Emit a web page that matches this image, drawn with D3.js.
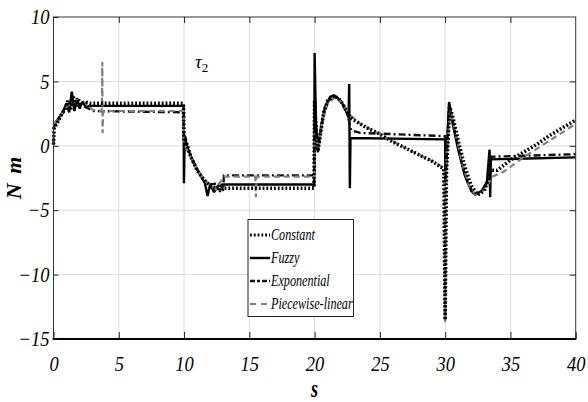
<!DOCTYPE html>
<html>
<head>
<meta charset="utf-8">
<script src="https://cdn.jsdelivr.net/npm/d3@7"></script>
<style>
  html, body { margin: 0; padding: 0; background: #fff; }
  svg { display: block; }
</style>
</head>
<body>
<svg id="chart" width="588" height="402"></svg>
<script>
// ---- data ----
const xTicks = [0, 5, 10, 15, 20, 25, 30, 35, 40];
const yTicks = [-15, -10, -5, 0, 5, 10];
const seriesNames = ["Constant", "Fuzzy", "Exponential", "Piecewise-linear"];

const constantT = [0,0.05,0.3,0.6,0.9,1.1,1.3,1.5,1.7,1.9,2.1,2.4,2.8,9.95,10.0,10.1,10.5,11,11.5,12,12.5,19.95,20.0,20.1,20.25,20.4,20.7,21.0,21.5,22.0,22.4,22.7,23.0,24,25,26,27,28,29,29.9,30.0,30.1,30.35,30.6,31,31.5,32,32.5,33,33.3,33.5,34,34.5,35,36,37,38,39,40];
const constantV = [0.1,1.4,1.8,2.4,2.9,3.5,2.8,3.9,3.0,3.6,3.2,3.4,3.3,3.3,0.4,0.5,-0.8,-1.9,-2.6,-3.1,-3.3,-3.3,3.5,1.5,-0.4,0.6,2.6,3.5,3.9,3.5,2.8,2.2,2.0,1.4,0.9,0.3,-0.2,-0.7,-1.2,-1.8,-13.5,-2.0,3.0,2.2,0.4,-1.6,-3.1,-3.8,-3.5,-2.6,-1.9,-1.9,-1.5,-1.1,-0.5,0.1,0.8,1.4,2.0];

const fuzzyT = [0,0.2,0.5,0.8,1.0,1.2,1.4,1.6,1.8,2.0,2.2,2.5,2.8,9.97,9.99,10.05,10.3,10.7,11.2,11.6,11.8,12.0,12.3,12.6,13,19.97,20.0,20.1,20.25,20.5,20.8,21.2,21.5,21.9,22.3,22.6,22.65,22.7,22.75,30.0,30.02,30.3,30.6,31,31.5,32,32.3,32.8,33.2,33.4,33.45,33.5,40];
const fuzzyV = [1.6,1.9,2.3,2.8,3.3,2.6,4.2,2.7,3.7,2.9,3.4,3.0,3.1,3.1,-2.9,0.6,-0.2,-1.3,-2.2,-2.9,-3.9,-3.0,-3.6,-3.1,-3.0,-3.0,7.2,2.0,-0.5,1.5,3.0,3.8,3.9,3.6,3.0,2.2,4.8,-3.3,0.6,0.5,-3.0,3.4,1.6,-0.3,-2.3,-3.5,-3.8,-3.5,-2.8,-0.3,-4.0,-1.05,-0.9];

const expT = [0,0.05,0.5,1.0,1.5,2.0,2.5,3.0,9.97,10.0,10.4,11,11.5,12,12.7,12.75,12.8,13,13.05,19.97,20,20.25,20.6,21,21.5,22,22.5,22.8,23.5,30,30.05,30.3,30.7,31.2,31.7,32.2,32.7,33.2,33.5,40];
const expV = [0.1,1.5,2.2,3.0,3.3,3.2,3.0,2.7,2.6,0.3,-0.6,-1.8,-2.6,-3.0,-2.9,-3.6,-2.9,-3.5,-2.3,-2.3,1.0,-0.2,2.0,3.4,3.9,3.5,2.5,1.2,1.0,0.75,-2.0,3.2,1.4,-1.0,-2.8,-3.7,-3.7,-2.9,-0.85,-0.65];

const pwT = [0,0.3,0.7,1.0,1.5,2.0,2.5,3.0,3.7,3.74,3.76,3.8,9.97,10,10.5,11,11.5,12,12.5,13,15.45,15.5,15.55,19.97,20,20.3,20.6,21,21.6,22.2,22.7,23.5,25,27,29,29.9,30,30.1,30.4,30.8,31.3,31.8,32.3,32.8,33.3,33.6,34.5,36,38,40];
const pwV = [1.7,2.0,2.6,3.0,3.4,3.6,3.3,2.8,2.7,6.5,1.0,2.7,2.7,0.2,-0.9,-1.9,-2.6,-3.1,-3.4,-2.4,-2.4,-4.0,-2.4,-2.4,1.0,-0.2,2.0,3.3,3.8,3.2,2.4,1.7,0.9,-0.2,-1.2,-1.7,-13.7,-1.0,2.8,1.0,-1.3,-3.0,-3.8,-3.6,-3.0,-2.4,-2.0,-0.9,0.4,1.7];

// ---- layout ----
const svg = d3.select("#chart");
const L = 53.5, R = 575.7, T = 17, B = 339;
const x = d3.scaleLinear().domain([0, 40]).range([L, R]);
const y = d3.scaleLinear().domain([-15, 10]).range([B, T]);
const FONT = "'Liberation Serif', 'DejaVu Serif', 'Noto Serif', Times, serif";

// grid
const grid = svg.append("g");
grid.selectAll("line.vx").data(xTicks.slice(1, -1)).enter().append("line")
  .attr("x1", d => x(d)).attr("x2", d => x(d)).attr("y1", T).attr("y2", B)
  .attr("stroke", "#dcdcdc").attr("stroke-width", 1);
grid.selectAll("line.hy").data(yTicks.slice(1, -1)).enter().append("line")
  .attr("x1", L).attr("x2", R).attr("y1", d => y(d)).attr("y2", d => y(d))
  .attr("stroke", "#dcdcdc").attr("stroke-width", 1);

// series
const zip = (ts, vs) => ts.map((t, i) => [t, vs[i]]);
const line = d3.line().x(d => x(d[0])).y(d => y(d[1]));
const styles = {
  "Constant":        { color: "#000", width: 3.6, dash: "1.8,2" },
  "Fuzzy":           { color: "#000", width: 2.4, dash: null },
  "Exponential":     { color: "#111", width: 2.4, dash: "7,3,2,3" },
  "Piecewise-linear":{ color: "#808080", width: 2.2, dash: "6,4" }
};
const data = {
  "Constant": zip(constantT, constantV),
  "Fuzzy": zip(fuzzyT, fuzzyV),
  "Exponential": zip(expT, expV),
  "Piecewise-linear": zip(pwT, pwV)
};
const drawOrder = ["Fuzzy", "Exponential", "Piecewise-linear", "Constant"];
const plot = svg.append("g");
drawOrder.forEach(name => {
  const s = styles[name];
  plot.append("path").datum(data[name])
    .attr("d", line).attr("fill", "none")
    .attr("stroke", s.color).attr("stroke-width", s.width)
    .attr("stroke-dasharray", s.dash).attr("stroke-linejoin", "miter")
    .attr("stroke-miterlimit", 2);
});

// frame
svg.append("rect").attr("x", L).attr("y", T).attr("width", R - L).attr("height", B - T)
  .attr("fill", "none").attr("stroke", "#333").attr("stroke-width", 1);
svg.append("line").attr("x1", L - 1).attr("x2", R + 0.5).attr("y1", B).attr("y2", B)
  .attr("stroke", "#000").attr("stroke-width", 2);

// axes (ticks inward)
const sx = 0.88;
const xAxis = svg.append("g").attr("transform", `translate(0,${B})`)
  .call(d3.axisBottom(x).tickValues(xTicks).tickSizeInner(-7).tickSizeOuter(0).tickPadding(17));
const yAxis = svg.append("g").attr("transform", `translate(${L},0)`)
  .call(d3.axisLeft(y).tickValues(yTicks).tickSizeInner(-5).tickSizeOuter(0).tickPadding(4));
// mirrored ticks on top and right
svg.append("g").attr("transform", `translate(0,${T})`)
  .call(d3.axisTop(x).tickValues(xTicks.slice(1, -1)).tickSizeInner(-6).tickSizeOuter(0).tickFormat(""));
svg.append("g").attr("transform", `translate(${R},0)`)
  .call(d3.axisRight(y).tickValues(yTicks.slice(1, -1)).tickSizeInner(-6).tickSizeOuter(0).tickFormat(""));
svg.selectAll(".domain").remove();
svg.selectAll(".tick line").attr("stroke", "#222");
[xAxis, yAxis].forEach(g => g.selectAll("text")
  .attr("font-family", FONT).attr("font-style", "italic").attr("font-size", 21).attr("fill", "#000"));
xAxis.selectAll("text").attr("transform", `scale(${sx},1)`);
yAxis.selectAll("text").each(function () {
  const t = d3.select(this);
  t.attr("x", +t.attr("x") / sx).attr("transform", `scale(${sx},1)`);
});

// axis titles
svg.append("text").attr("transform", `translate(${x(20)},397) scale(0.7,1)`)
  .attr("text-anchor", "middle").attr("font-family", FONT).attr("font-style", "italic")
  .attr("font-weight", "bold").attr("font-size", 26).text("s");
svg.append("text").attr("transform", `translate(21,178) rotate(-90)`)
  .attr("text-anchor", "middle").attr("font-family", FONT).attr("font-style", "italic")
  .attr("font-weight", "bold").attr("font-size", 22).attr("word-spacing", 4).text("N m");

// tau label
const tau = svg.append("text").attr("x", 195).attr("y", 68)
  .attr("font-family", FONT).attr("font-style", "italic").attr("font-size", 19);
tau.append("tspan").text("τ");
tau.append("tspan").attr("font-style", "normal").attr("font-size", 13).attr("dy", 4).text("2");

// legend
const lg = svg.append("g");
lg.append("rect").attr("x", 248).attr("y", 219.5).attr("width", 105.5).attr("height", 97)
  .attr("fill", "#fff").attr("stroke", "#222").attr("stroke-width", 1);
const lgY = [235, 258, 281, 304];
const ls = 0.76;
seriesNames.forEach((name, i) => {
  const s = styles[name];
  lg.append("line").attr("x1", 250).attr("x2", 270).attr("y1", lgY[i]).attr("y2", lgY[i])
    .attr("stroke", s.color).attr("stroke-width", name === "Constant" ? 3.2 : s.width)
    .attr("stroke-dasharray", name === "Exponential" ? "5,2,3,2" : (name === "Piecewise-linear" ? "6,5" : s.dash));
  lg.append("text").attr("transform", `translate(271,${lgY[i] + 5}) scale(${ls},1)`)
    .attr("font-family", FONT).attr("font-style", "italic").attr("font-size", 16)
    .attr("fill", "#000").text(name);
});
</script>
</body>
</html>
